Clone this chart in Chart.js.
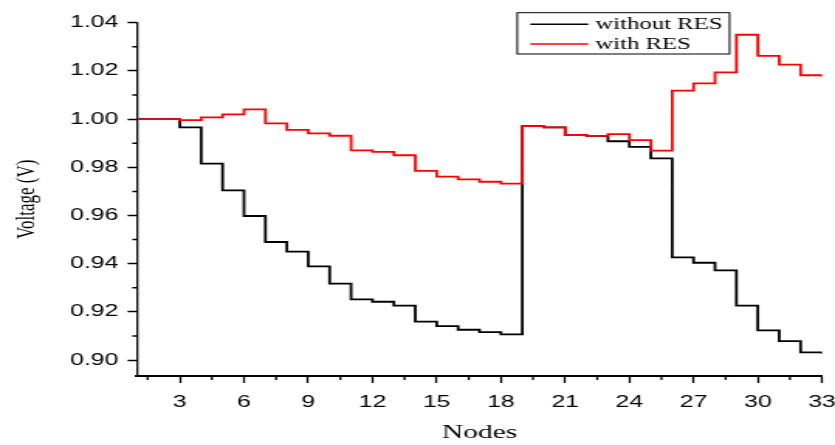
<!DOCTYPE html>
<html>
<head>
<meta charset="utf-8">
<title>Node voltage profile</title>
<script src="https://cdn.jsdelivr.net/npm/chart.js@4.4.1/dist/chart.umd.min.js"></script>
<style>
  html, body { margin: 0; padding: 0; background: #fff; overflow: hidden; }
  /* chart is laid out narrow, then widened to the full page width */
  #wrap {
    position: relative;
    width: 539px;
    height: 445px;
    transform: scaleX(1.5492);
    transform-origin: 0 0;
  }
</style>
</head>
<body>
<div id="wrap"><canvas id="voltChart"></canvas></div>
<script>
// Bus numbers along the feeder
const nodes = [1, 2, 3, 4, 5, 6, 7, 8, 9, 10, 11, 12, 13, 14, 15, 16, 17,
               18, 19, 20, 21, 22, 23, 24, 25, 26, 27, 28, 29, 30, 31, 32, 33];

// Voltage per node (p.u.)
const withoutRes = [1.0000, 1.0000, 0.9966, 0.9815, 0.9704, 0.9598, 0.9490, 0.9450,
                    0.9389, 0.9317, 0.9252, 0.9242, 0.9226, 0.9160, 0.9141, 0.9126,
                    0.9116, 0.9107, 0.9971, 0.9966, 0.9934, 0.9930, 0.9908, 0.9885,
                    0.9837, 0.9426, 0.9404, 0.9372, 0.9226, 0.9123, 0.9079, 0.9032, 0.9026];
const withRes = [1.0000, 1.0000, 0.9996, 1.0007, 1.0020, 1.0040, 0.9982, 0.9955,
                 0.9941, 0.9931, 0.9870, 0.9864, 0.9850, 0.9785, 0.9761, 0.9750,
                 0.9740, 0.9732, 0.9971, 0.9966, 0.9934, 0.9930, 0.9938, 0.9913,
                 0.9869, 1.0118, 1.0148, 1.0194, 1.0350, 1.0262, 1.0226, 1.0182, 1.0176];

// Tick positions
const xMajor = [3, 6, 9, 12, 15, 18, 21, 24, 27, 30, 33];
const xMinor = [1.5, 4.5, 7.5, 10.5, 13.5, 16.5, 19.5, 22.5, 25.5, 28.5, 31.5];
const yMajor = [0.90, 0.92, 0.94, 0.96, 0.98, 1.00, 1.02, 1.04];
const yMinor = [0.91, 0.93, 0.95, 0.97, 0.99, 1.01, 1.03];

const toPoints = vals => nodes.map((n, i) => ({ x: n, y: vals[i] }));

Chart.defaults.font.family = '"Liberation Sans", Arial, sans-serif';
Chart.defaults.color = '#000';

// small unlabelled ticks between the major ones
const minorTicks = {
  id: 'minorTicks',
  afterDraw(chart) {
    const { ctx, scales: { x, y } } = chart;
    ctx.save();
    ctx.strokeStyle = '#000';
    ctx.lineWidth = 1.3;
    ctx.beginPath();
    for (const v of xMinor) {
      const px = x.getPixelForValue(v);
      ctx.moveTo(px, x.top);
      ctx.lineTo(px, x.top + 4);
    }
    ctx.stroke();
    ctx.lineWidth = 1.5;
    ctx.beginPath();
    for (const v of yMinor) {
      const py = y.getPixelForValue(v);
      ctx.moveTo(y.right, py);
      ctx.lineTo(y.right - 3, py);
    }
    ctx.stroke();
    ctx.restore();
  }
};

// boxed legend in the upper right of the plot
const boxLegend = {
  id: 'boxLegend',
  afterDraw(chart) {
    const { ctx, chartArea } = chart;
    const left = chartArea.left + 245.5;
    const top = 12.7;
    const w = 137, h = 41.3;
    ctx.save();
    ctx.fillStyle = '#fff';
    ctx.fillRect(left, top, w, h);
    ctx.strokeStyle = '#000';
    ctx.lineWidth = 1;
    ctx.strokeRect(left, top, w, h);
    ctx.font = '16px "Liberation Serif", "Times New Roman", serif';
    ctx.textBaseline = 'middle';
    ctx.textAlign = 'left';
    chart.data.datasets.forEach((ds, i) => {
      const cy = top + 11.5 + i * 19.8;
      ctx.strokeStyle = ds.borderColor;
      ctx.lineWidth = 1.6;
      ctx.beginPath();
      ctx.moveTo(left + 8.4, cy);
      ctx.lineTo(left + 45.8, cy);
      ctx.stroke();
      ctx.fillStyle = '#000';
      ctx.fillText(ds.label, left + 50.3, cy + 1);
    });
    ctx.restore();
  }
};

new Chart(document.getElementById('voltChart'), {
  type: 'line',
  data: {
    datasets: [
      {
        label: 'without RES',
        data: toPoints(withoutRes),
        borderColor: '#000000',
        backgroundColor: '#000000',
        borderWidth: 1.8,
        stepped: true,
        pointRadius: 0,
        order: 1
      },
      {
        label: 'with RES',
        data: toPoints(withRes),
        borderColor: '#ff0000',
        backgroundColor: '#ff0000',
        borderWidth: 1.8,
        stepped: true,
        pointRadius: 0,
        order: 0
      }
    ]
  },
  options: {
    responsive: true,
    maintainAspectRatio: false,
    animation: false,
    layout: { padding: { top: 22.7, right: 8.4, left: 0, bottom: 0 } },
    plugins: {
      legend: { display: false },
      tooltip: { enabled: false }
    },
    scales: {
      x: {
        type: 'linear',
        min: 1,
        max: 33,
        afterBuildTicks: s => { s.ticks = xMajor.map(v => ({ value: v })); },
        afterFit: s => { s.height = 69; s.paddingLeft = 0; s.paddingRight = 0; },
        border: { display: true, color: '#000', width: 2 },
        grid: {
          drawOnChartArea: false,
          drawTicks: true,
          tickLength: 7,
          tickColor: '#000',
          tickWidth: 1.3
        },
        ticks: {
          autoSkip: false,
          maxRotation: 0,
          padding: 10,
          font: { size: 16 },
          callback: v => String(v)
        },
        title: {
          display: true,
          text: 'Nodes',
          font: { family: '"Liberation Serif", "Times New Roman", serif', size: 19 },
          padding: { top: 0, bottom: 1 }
        }
      },
      y: {
        min: 0.8934,
        max: 1.04,
        afterBuildTicks: s => { s.ticks = yMajor.map(v => ({ value: v })); },
        afterFit: s => { s.width = 88.4; s.paddingTop = 0; s.paddingBottom = 0; },
        border: { display: true, color: '#000', width: 1.3 },
        grid: {
          drawOnChartArea: false,
          drawTicks: true,
          tickLength: 6,
          tickColor: '#000',
          tickWidth: 1.5
        },
        ticks: {
          padding: 6,
          font: { size: 16 },
          callback: v => Number(v).toFixed(2)
        },
        title: {
          display: true,
          text: 'Voltage (V)',
          font: { family: '"Liberation Serif", "Times New Roman", serif', size: 17 },
          padding: { top: 7, bottom: 0 }
        }
      }
    }
  },
  plugins: [minorTicks, boxLegend]
});
</script>
</body>
</html>
